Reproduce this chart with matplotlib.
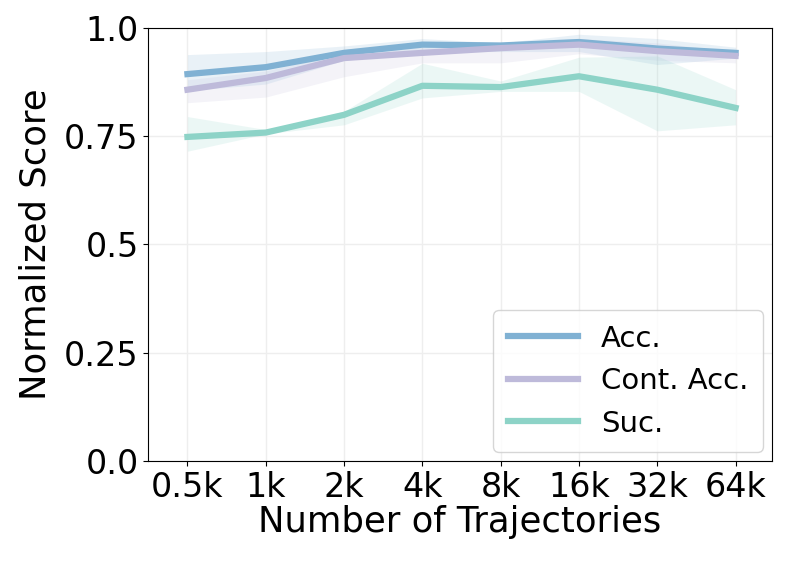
import numpy as np
import matplotlib.pyplot as plt

# data
labels = ['0.5k', '1k', '2k', '4k', '8k', '16k', '32k', '64k']
acc = [0.893, 0.909, 0.942, 0.961, 0.959, 0.967, 0.952, 0.942]
acc_hi = [0.938, 0.945, 0.958, 0.975, 0.965, 0.985, 0.975, 0.955]
acc_lo = [0.855, 0.870, 0.925, 0.945, 0.945, 0.945, 0.915, 0.930]
cont = [0.857, 0.884, 0.930, 0.942, 0.953, 0.961, 0.946, 0.935]
cont_hi = [0.880, 0.900, 0.945, 0.955, 0.962, 0.975, 0.965, 0.945]
cont_lo = [0.827, 0.840, 0.887, 0.919, 0.919, 0.940, 0.925, 0.919]
suc = [0.748, 0.758, 0.799, 0.866, 0.863, 0.888, 0.857, 0.815]
suc_hi = [0.795, 0.765, 0.807, 0.918, 0.877, 0.932, 0.935, 0.857]
suc_lo = [0.715, 0.755, 0.776, 0.838, 0.853, 0.853, 0.762, 0.776]

colors = ['#80b1d3', '#bebada', '#8dd3c7']

fig = plt.figure(figsize=(7.93, 5.66), dpi=100)
ax = fig.add_axes([0.187, 0.1855, 0.786, 0.7655])
x = np.arange(len(labels))

series = [('Acc.', acc, acc_lo, acc_hi),
          ('Cont. Acc.', cont, cont_lo, cont_hi),
          ('Suc.', suc, suc_lo, suc_hi)]
for (name, m, lo, hi), c in zip(series, colors):
    ax.fill_between(x, lo, hi, color=c, alpha=0.17, linewidth=0)
    ax.plot(x, m, color=c, lw=4.5, label=name)

ax.set_xlim(-0.5, 7.46)
ax.set_ylim(0, 1.0)
ax.set_xticks(x)
ax.set_xticklabels(labels)
ax.set_yticks([0, 0.25, 0.5, 0.75, 1.0])
ax.set_yticklabels(['0.0', '0.25', '0.5', '0.75', '1.0'])
ax.tick_params(labelsize=24)
ax.grid(True, color='#eeeeee', lw=1)
ax.set_axisbelow(True)
ax.set_xlabel('Number of Trajectories', fontsize=25.5, labelpad=1)
ax.set_ylabel('Normalized Score', fontsize=25.5, labelpad=8)
ax.legend(loc='lower right', fontsize=21, handlelength=2.4, borderpad=0.5,
          borderaxespad=0.3)

fig.savefig('out.png', dpi=100)
